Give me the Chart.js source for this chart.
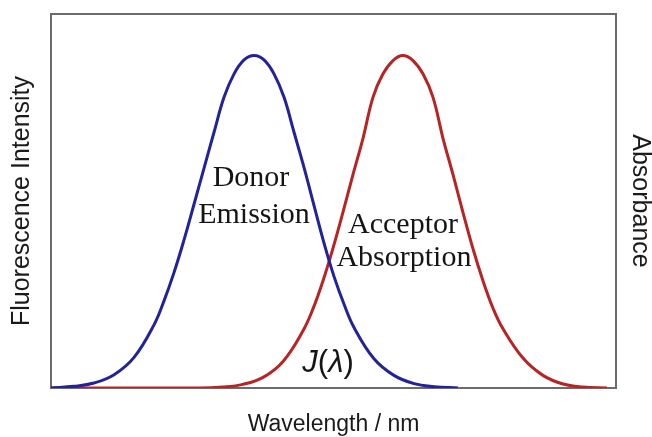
<!DOCTYPE html>
<html>
<head>
<meta charset="utf-8">
<script src="https://cdn.jsdelivr.net/npm/chart.js@4/dist/chart.umd.min.js"></script>
<style>
  html, body { margin: 0; padding: 0; background: #ffffff; }
  #wrap { width: 652px; height: 437px; position: relative; }
</style>
</head>
<body>
<div id="wrap"><canvas id="c" width="652" height="437"></canvas></div>
<script>
// ---- data (wavelength in nm, normalised intensity) ----
const donorWavelength = [400, 412.2, 422.8, 433.5, 444.1, 454.7, 460.0, 465.3, 470.6, 475.9, 481.3, 486.6, 491.9, 497.2, 502.5, 507.8, 513.1, 518.4, 523.7, 529.0, 534.4, 539.7, 545.0, 550.3, 555.6, 560.9, 571.5, 582.1, 592.8, 603.4, 616.1];
const donorEmission   = [0, 0.005, 0.015, 0.040, 0.092, 0.190, 0.262, 0.347, 0.445, 0.552, 0.662, 0.770, 0.875, 0.945, 0.987, 1.0, 0.987, 0.945, 0.875, 0.770, 0.662, 0.548, 0.435, 0.335, 0.252, 0.182, 0.088, 0.038, 0.013, 0.004, 0];

const acceptorWavelength = [400, 478.6, 491.3, 501.9, 512.6, 523.2, 533.8, 539.1, 544.4, 549.7, 555.0, 560.3, 565.7, 571.0, 576.3, 581.6, 586.9, 592.2, 597.5, 602.8, 608.1, 613.5, 618.8, 624.1, 629.4, 634.7, 640.0, 650.6, 661.2, 671.9, 682.5, 695.2];
const acceptorAbsorption = [0, 0, 0.003, 0.011, 0.032, 0.080, 0.172, 0.238, 0.322, 0.420, 0.528, 0.641, 0.752, 0.875, 0.945, 0.985, 1.0, 0.985, 0.945, 0.875, 0.752, 0.641, 0.527, 0.418, 0.322, 0.240, 0.178, 0.090, 0.038, 0.012, 0.003, 0];

const xTitle = 'Wavelength / nm';
const yLeftTitle = 'Fluorescence Intensity';
const yRightTitle = 'Absorbance';

// text annotations placed in data coordinates
const annotations = [
  { text: 'Donor',      x: 506.2, y: 0.632 },
  { text: 'Emission',   x: 507.8, y: 0.520 },
  { text: 'Acceptor',   x: 586.9, y: 0.490 },
  { text: 'Absorption', x: 587.4, y: 0.391 }
];
const overlapLabel = { x: 547.1, y: 0.075 };

const toPoints = (xs, ys) => xs.map((x, i) => ({ x: x, y: ys[i] }));

const SERIF = '"Liberation Serif", "Times New Roman", serif';
const SANS = '"Liberation Sans", Arial, sans-serif';

const framePlugin = {
  id: 'frame',
  beforeDatasetsDraw(chart) {
    const { ctx, chartArea: a } = chart;
    ctx.save();
    ctx.strokeStyle = '#6b6b6b';
    ctx.lineWidth = 2;
    ctx.strokeRect(a.left, a.top, a.right - a.left, a.bottom - a.top);
    ctx.restore();
  },
  afterDatasetsDraw(chart) {
    const { ctx } = chart;
    const xs = chart.scales.x, ys = chart.scales.y;
    ctx.save();
    ctx.fillStyle = '#151515';
    ctx.textAlign = 'center';
    ctx.textBaseline = 'middle';
    ctx.font = '30px ' + SERIF;
    annotations.forEach(a => {
      ctx.fillText(a.text, xs.getPixelForValue(a.x), ys.getPixelForValue(a.y));
    });
    // J(λ)
    const cx = xs.getPixelForValue(overlapLabel.x);
    const cy = ys.getPixelForValue(overlapLabel.y);
    const it = 'italic 31px ' + SANS, rg = '31px ' + SANS;
    const parts = [['J', it], ['(', rg], ['λ', it], [')', rg]];
    let total = 0;
    parts.forEach(p => { ctx.font = p[1]; total += ctx.measureText(p[0]).width; });
    let pos = cx - total / 2;
    ctx.textAlign = 'left';
    parts.forEach(p => {
      ctx.font = p[1];
      ctx.fillText(p[0], pos, cy);
      pos += ctx.measureText(p[0]).width;
    });
    ctx.restore();
  }
};

const hiddenAxis = {
  grid: { display: false, drawTicks: false },
  border: { display: false },
  ticks: { display: false }
};

new Chart(document.getElementById('c'), {
  type: 'line',
  data: {
    datasets: [
      {
        label: 'Donor Emission',
        data: toPoints(donorWavelength, donorEmission),
        borderColor: '#22229a',
        borderWidth: 3,
        pointRadius: 0,
        tension: 0.4,
        fill: false,
        yAxisID: 'y'
      },
      {
        label: 'Acceptor Absorption',
        data: toPoints(acceptorWavelength, acceptorAbsorption),
        borderColor: '#b82424',
        borderWidth: 3,
        pointRadius: 0,
        tension: 0.4,
        fill: false,
        yAxisID: 'y'
      }
    ]
  },
  options: {
    responsive: false,
    animation: false,
    devicePixelRatio: 1,
    layout: { padding: { left: 9.5, right: 0, top: 14, bottom: 0 } },
    plugins: { legend: { display: false }, tooltip: { enabled: false } },
    scales: {
      x: Object.assign({}, hiddenAxis, {
        type: 'linear', min: 400, max: 700,
        title: { display: true, text: xTitle, color: '#1a1a1a',
                 font: { family: SANS, size: 23, lineHeight: 1 },
                 padding: { top: 25.5, bottom: 0.5 } }
      }),
      y: Object.assign({}, hiddenAxis, {
        type: 'linear', position: 'left', min: 0, max: 1.125,
        title: { display: true, text: yLeftTitle, color: '#1a1a1a',
                 font: { family: SANS, size: 25, lineHeight: 1 },
                 padding: { top: 0, bottom: 16.5 } }
      }),
      y2: Object.assign({}, hiddenAxis, {
        type: 'linear', position: 'right', min: 0, max: 1.125,
        title: { display: true, text: yRightTitle, color: '#1a1a1a',
                 font: { family: SANS, size: 25, lineHeight: 1 },
                 padding: { top: 0, bottom: 11 } }
      })
    }
  },
  plugins: [framePlugin]
});
</script>
</body>
</html>
